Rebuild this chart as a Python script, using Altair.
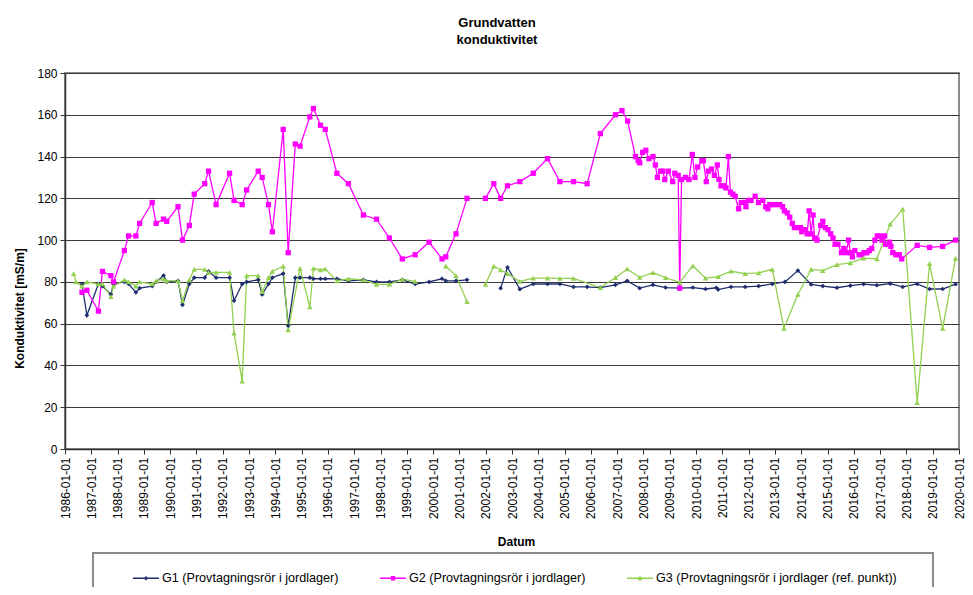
import altair as alt
import pandas as pd

SERIES = [
    "G1 (Provtagningsrör i jordlager)",
    "G2 (Provtagningsrör i jordlager)",
    "G3 (Provtagningsrör i jordlager (ref. punkt))",
]
COLORS = ["#1f2d6e", "#ff00ff", "#92d050"]
MARKERS = ["diamond", "square", "triangle-up"]
MARKER_SIZES = [22, 28, 30]
LEGEND_PATHS = [
    "M-1,-0.055H1V0.055H-1Z M0,-0.17L0.17,0L0,0.17L-0.17,0Z",
    "M-1,-0.055H1V0.055H-1Z M-0.17,-0.17H0.17V0.17H-0.17Z",
    "M-1,-0.055H1V0.055H-1Z M0,-0.2L0.2,0.15H-0.2Z",
]

G1_DATES = [
    "1986-08-25", "1986-11-01", "1987-04-10", "1987-06-05", "1987-10-01", "1987-11-06",
    "1988-04-05", "1988-06-02", "1988-09-12", "1988-11-02", "1989-04-26", "1989-06-20",
    "1989-10-01", "1989-11-14", "1990-04-20", "1990-06-21", "1990-09-24", "1990-12-01",
    "1991-04-26", "1991-06-18", "1991-10-01", "1992-04-05", "1992-06-06", "1992-09-27",
    "1992-11-28", "1993-05-08", "1993-07-02", "1993-09-28", "1993-11-20", "1994-04-20",
    "1994-06-28", "1994-10-05", "1994-12-10", "1995-04-24", "1995-06-14", "1995-09-20",
    "1995-11-25", "1996-05-04", "1996-10-12", "1997-05-08", "1997-11-06", "1998-05-04",
    "1998-10-30", "1999-04-27", "1999-11-06", "2000-05-04", "2000-06-25", "2000-11-14",
    "2001-04-16", "2002-01-01", "2002-07-27", "2002-10-30", "2003-04-20", "2003-10-23",
    "2004-05-08", "2004-10-27", "2005-05-04", "2005-11-10", "2006-05-12", "2006-12-08",
    "2007-05-20", "2007-11-10", "2008-05-12", "2008-11-03", "2009-05-19", "2009-11-17",
    "2010-05-12", "2010-10-10", "2010-11-03", "2011-05-01", "2011-11-14", "2012-05-18",
    "2012-11-25", "2013-05-20", "2013-11-15", "2014-05-18", "2014-10-27", "2015-05-12",
    "2015-11-14", "2016-05-15", "2016-11-15", "2017-05-20", "2017-11-10", "2018-05-30",
    "2018-11-18", "2019-05-19", "2019-11-14",
]
G1_VALUES = [
    79, 64, 79, 78, 74, 79,
    80, 79, 75, 77, 78, 80,
    83, 80, 80.5, 69, 79, 82,
    82, 85, 82, 82, 71, 79,
    80, 81, 74, 79, 82, 84,
    59, 82, 82, 82, 81.5, 81.5,
    81.5, 81.5, 80.5, 81, 80, 80,
    81, 79, 80, 81.5, 80.5, 80.5,
    81, None, 77, 87, 76.5, 79,
    79, 79, 77.6, 77.6, 77.3, 78.6,
    80.5, 77, 78.6, 77.3, 77, 77.3,
    76.6, 77.2, 76.3, 77.6, 77.6, 78,
    79, 80, 85.4, 78.8, 78, 77.2,
    78.2, 78.9, 78.4, 79.2, 77.6, 79,
    76.6, 76.6, 78.9,
]

G2_DATES = [
    "1986-08-25", "1986-11-01", "1987-04-10", "1987-06-05", "1987-10-01", "1987-11-06",
    "1988-04-05", "1988-06-02", "1988-09-12", "1988-11-02", "1989-04-26", "1989-06-20",
    "1989-10-01", "1989-11-14", "1990-04-20", "1990-06-21", "1990-09-24", "1990-12-01",
    "1991-04-26", "1991-06-18", "1991-10-01", "1992-04-05", "1992-06-06", "1992-09-27",
    "1992-11-28", "1993-05-08", "1993-07-02", "1993-09-28", "1993-11-20", "1994-04-20",
    "1994-06-28", "1994-10-05", "1994-12-10", "1995-04-24", "1995-06-14", "1995-09-20",
    "1995-11-25", "1996-05-04", "1996-10-12", "1997-05-08", "1997-11-06", "1998-05-04",
    "1998-10-30", "1999-04-27", "1999-11-06", "2000-05-04", "2000-06-25", "2000-11-14",
    "2001-04-16", "2001-08-15", "2001-12-28", "2002-04-23", "2002-07-27", "2002-10-30",
    "2003-04-20", "2003-10-23", "2004-05-08", "2004-10-27", "2005-05-04", "2005-11-10",
    "2006-05-12", "2006-12-08", "2007-03-08", "2007-05-26", "2007-09-12", "2007-10-20",
    "2007-11-10", "2007-12-20", "2008-02-03", "2008-03-18", "2008-05-12", "2008-06-14",
    "2008-07-13", "2008-08-25", "2008-09-27", "2008-10-23", "2008-12-13", "2009-02-10",
    "2009-03-11", "2009-04-27", "2009-05-19", "2009-06-13", "2009-08-07", "2009-09-24",
    "2009-11-10", "2009-12-16", "2010-01-22", "2010-03-22", "2010-04-12", "2010-05-22",
    "2010-06-20", "2010-08-03", "2010-09-12", "2010-10-23", "2010-11-15", "2010-12-13",
    "2011-01-26", "2011-02-20", "2011-03-25", "2011-04-23", "2011-05-26", "2011-06-28",
    "2011-08-14", "2011-09-20", "2011-11-14", "2011-11-25", "2011-12-25", "2012-02-03",
    "2012-04-01", "2012-05-18", "2012-07-16", "2012-08-25", "2012-09-24", "2012-10-20",
    "2012-11-25", "2013-01-12", "2013-03-08", "2013-04-16", "2013-05-12", "2013-06-21",
    "2013-07-24", "2013-08-29", "2013-09-27", "2013-11-10", "2013-12-20", "2014-01-08",
    "2014-02-20", "2014-03-25", "2014-04-20", "2014-05-18", "2014-06-14", "2014-07-05",
    "2014-08-08", "2014-09-27", "2014-10-27", "2014-12-02", "2015-01-08", "2015-02-14",
    "2015-03-18", "2015-04-16", "2015-05-26", "2015-07-13", "2015-08-15", "2015-09-17",
    "2015-10-20", "2015-11-14", "2015-12-13", "2016-01-15", "2016-03-14", "2016-04-20",
    "2016-05-22", "2016-07-01", "2016-08-03", "2016-09-06", "2016-10-20", "2016-11-22",
    "2016-12-25", "2017-01-26", "2017-03-04", "2017-03-18", "2017-05-12", "2017-05-30",
    "2017-06-25", "2017-08-08", "2017-09-24", "2017-10-27", "2018-05-30", "2018-11-18",
    "2019-05-19", "2019-11-14",
]
G2_VALUES = [
    75, 76, 66, 85, 83, 80,
    95, 102, 102, 108, 118, 108,
    110, 109, 116, 100, 107, 122,
    127, 133, 117, 132, 119, 117,
    124, 133, 130, 117, 104, 153,
    94, 146, 145, 159, 163, 155,
    153, 132, 127, 112, 110, 101,
    91, 93, 99, 91, 92, 103,
    120, None, 120, 127, 120, 126,
    128, 132, 139, 128, 128, 127,
    151, 160, 162, 157, 140, 138,
    137, 142, 143, 139, 140, 136,
    130, 133, 133, 129, 133, 128,
    132, 131, 77, 129, 130, 129,
    141, 130, 135, 138, 138, 128,
    133, 134, 131, 136, 129, 126,
    126, 125, 140, 123, 122, 121,
    115, 118, 118, 116, 119, 119,
    121, 118, 119, 116, 115, 117,
    117, 117, 117, 116, 114, 113,
    111, 108, 106, 106, 106, 104,
    105, 103, 114, 103, 112, 101,
    100, 107, 109, 106, 105, 103,
    101, 98, 98, 94, 96, 94,
    100, 94, 92, 95, 93, 93,
    94, 94, 95, 96, 100, 102,
    102, 100, 102, 98, 99, 97,
    94, 93, 93, 91, 97.5, 96.5,
    97, 100,
]

G3_DATES = [
    "1986-05-01", "1986-06-01", "1986-08-25", "1986-11-01", "1987-04-10", "1987-06-05",
    "1987-10-01", "1987-11-06", "1988-04-05", "1988-06-02", "1988-09-12", "1988-11-02",
    "1989-04-26", "1989-06-20", "1989-10-01", "1989-11-14", "1990-04-20", "1990-06-21",
    "1990-09-24", "1990-12-01", "1991-04-26", "1991-06-18", "1991-10-01", "1992-04-05",
    "1992-06-06", "1992-09-27", "1992-11-28", "1993-05-08", "1993-07-02", "1993-09-28",
    "1993-11-20", "1994-04-20", "1994-06-28", "1994-12-10", "1995-04-24", "1995-06-14",
    "1995-09-20", "1995-11-25", "1996-05-04", "1996-10-12", "1997-05-08", "1997-11-06",
    "1998-05-04", "1998-10-30", "1999-04-27", "1999-12-01", "2000-06-25", "2000-11-14",
    "2001-04-16", "2001-08-15", "2001-12-28", "2002-04-23", "2002-07-27", "2002-10-30",
    "2003-04-20", "2003-10-23", "2004-05-08", "2004-10-27", "2005-05-04", "2006-05-12",
    "2006-12-08", "2007-05-20", "2007-11-10", "2008-05-12", "2008-11-03", "2009-05-19",
    "2009-11-17", "2010-05-12", "2010-11-03", "2011-05-01", "2011-11-14", "2012-05-18",
    "2012-11-25", "2013-05-05", "2013-11-15", "2014-05-18", "2014-10-27", "2015-05-12",
    "2015-11-14", "2016-05-15", "2016-11-15", "2017-05-20", "2017-11-10", "2018-05-30",
    "2018-11-18", "2019-05-19", "2019-11-14",
]
G3_VALUES = [
    84, 80, 78, 80, 79, 79,
    73, 78, 81, 80, 78, 80,
    79, 80.5, 81.5, 80.5, 80.5, 71,
    81, 86, 86, 84.6, 84.6, 84.6,
    55.5, 32.5, 83, 83, 75.3, 82,
    85, 87.5, 57, 86.5, 68, 86.5,
    85.7, 86.2, 80.5, 81.5, 81, 78.8,
    78.8, 81.3, 80.2, None, 87.5, 83,
    70.5, None, 78.8, 87.5, 85.7, 84,
    80.2, 81.8, 81.8, 81.7, 81.7, 77.3,
    82, 86.2, 82.2, 84.4, 82, 79.8,
    87.7, 81.8, 82.5, 85.1, 84, 84.3,
    86, 57.8, 74, 86, 85.4, 88.3,
    89.1, 91.4, 91, 107.6, 114.8, 22.2,
    88.8, 57.8, 91.3,
]

Y_TICKS = [0, 20, 40, 60, 80, 100, 120, 140, 160, 180]
X_YEARS = list(range(1986, 2021))

frames = []
for name, d, v in zip(SERIES, [G1_DATES, G2_DATES, G3_DATES], [G1_VALUES, G2_VALUES, G3_VALUES]):
    frames.append(pd.DataFrame({"series": name, "date": d, "value": v}))
df = pd.concat(frames, ignore_index=True)

FONT = "Liberation Sans"

x_enc = alt.X(
    "date:T",
    scale=alt.Scale(
        type="utc",
        domain=[alt.DateTime(year=X_YEARS[0], month=1, date=1, utc=True),
                alt.DateTime(year=X_YEARS[-1], month=1, date=1, utc=True)],
    ),
    axis=alt.Axis(
        values=[alt.DateTime(year=y, month=1, date=1, utc=True) for y in X_YEARS],
        format="%Y-%m-%d",
        labelAngle=270,
        labelFontSize=12,
        labelColor="#000000",
        labelPadding=3,
        labelOverlap=False,
        labelFlush=False,
        tickSize=5,
        tickColor="#333333",
        domainColor="#333333",
        domainWidth=1.5,
        grid=False,
        title="Datum",
        titleFontSize=12,
        titleFontWeight="bold",
        titleColor="#000000",
        titleX=451,
        titleY=92,
        titleAlign="center",
        titleBaseline="middle",
    ),
)
y_enc = alt.Y(
    "value:Q",
    scale=alt.Scale(domain=[Y_TICKS[0], Y_TICKS[-1]], nice=False, zero=True),
    axis=alt.Axis(
        values=Y_TICKS,
        labelFontSize=12,
        labelColor="#000000",
        labelPadding=3,
        tickSize=5,
        tickColor="#333333",
        domainColor="#333333",
        domainWidth=1.5,
        grid=True,
        gridColor="#3a3a3a",
        gridWidth=1,
        title="Konduktivitet [mS/m]",
        titleFontSize=12,
        titleFontWeight="bold",
        titleColor="#000000",
        titleAngle=270,
        titleX=-46,
        titleY=235,
        titleAlign="center",
        titleBaseline="middle",
    ),
)

layers = []
for name, color in zip(SERIES, COLORS):
    layers.append(
        alt.Chart(df)
        .transform_filter(alt.datum.series == name)
        .mark_line(color=color, strokeWidth=1.3, invalid="break-paths-show-domains")
        .encode(x=x_enc, y=y_enc)
    )
for name, color, shape, size in zip(SERIES, COLORS, MARKERS, MARKER_SIZES):
    layers.append(
        alt.Chart(df)
        .transform_filter(alt.datum.series == name)
        .mark_point(shape=shape, filled=True, color=color, size=size, opacity=1)
        .encode(x=x_enc, y=y_enc)
    )

legend_props = dict(
    orient="none",
    legendX=68,
    legendY=492,
    direction="horizontal",
    columns=3,
    columnPadding=41,
    symbolSize=676,
    symbolStrokeWidth=0,
    labelFontSize=12.6,
    labelFont=FONT,
    labelColor="#000000",
    labelOffset=3,
    labelLimit=400,
    title=None,
)
legend_layer = (
    alt.Chart(df)
    .transform_filter("false")
    .mark_point(filled=True, opacity=1)
    .encode(
        color=alt.Color("series:N", scale=alt.Scale(domain=SERIES, range=COLORS),
                        legend=alt.Legend(**legend_props)),
        shape=alt.Shape("series:N", scale=alt.Scale(domain=SERIES, range=LEGEND_PATHS),
                        legend=alt.Legend(**legend_props)),
    )
)

frame = (
    alt.Chart(alt.Data(values=[{}]))
    .mark_rect(fill="transparent", stroke="#8c8c8c", strokeWidth=2, clip=False)
    .encode(x=alt.value(28), x2=alt.value(868), y=alt.value(480), y2=alt.value(560))
)

chart = (
    alt.layer(*layers, legend_layer, frame)
    .properties(
        width=894,
        height=376,
        autosize=alt.AutoSizeParams(type="none"),
        padding={"left": 57, "top": 65, "right": 6, "bottom": 138},
        title=alt.TitleParams(
            text=["Grundvatten", "konduktivitet"],
            fontSize=13,
            fontWeight="bold",
            font=FONT,
            color="#000000",
            anchor="middle",
            frame="group",
            dx=-15,
            offset=20,
            lineHeight=17,
        ),
    )
    .configure(font=FONT)
    .configure_view(stroke="#8c8c8c", strokeWidth=2)
)

chart.save("out.html", embed_options={"renderer": "svg", "actions": False})
